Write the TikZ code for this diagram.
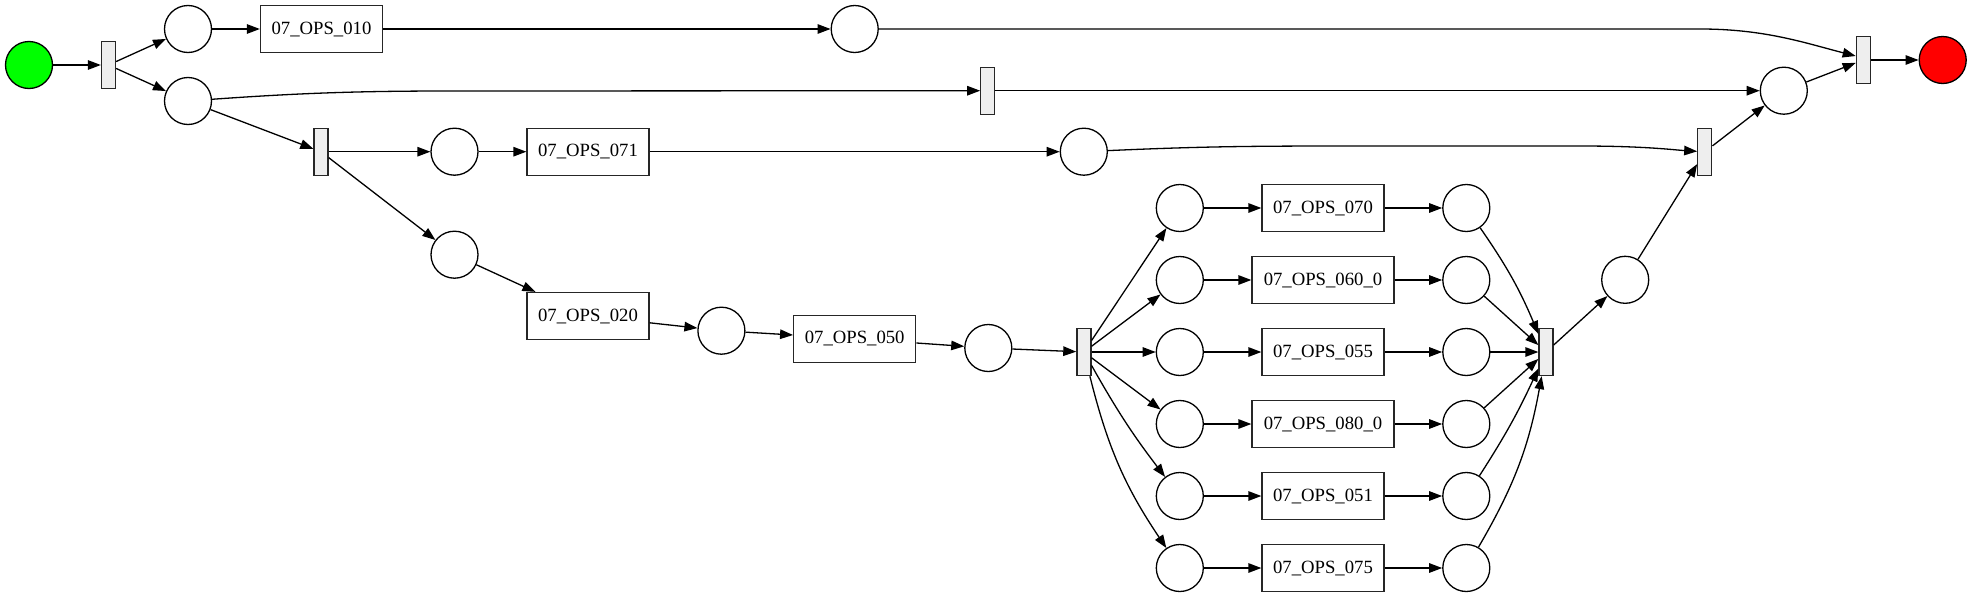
\documentclass[tikz,border=0pt]{standalone}
\usepackage{fontspec}
\setmainfont{Liberation Serif}
\usetikzlibrary{arrows.meta}
\definecolor{tgray}{HTML}{EEEEEE}
\definecolor{srcgreen}{HTML}{00FF00}
\definecolor{sinkred}{HTML}{FF0000}
\tikzset{
  place/.style={circle, draw=black, line width=1.3pt, minimum size=47pt, inner sep=0pt, fill=white},
  trans/.style={rectangle, draw=black!85, fill=tgray, line width=1.3pt, minimum width=14pt, minimum height=47pt, inner sep=0pt},
  opbox/.style={rectangle, draw=black!85, line width=1.3pt, minimum width=122pt, minimum height=47pt, inner sep=0pt, font=\fontsize{18.7}{22}\selectfont},
  widebox/.style={opbox, minimum width=142pt},
  arc/.style={line width=1.3pt, -{Triangle[length=13pt,width=9.5pt]}}
}
\begin{document}
\begin{tikzpicture}[x=1pt,y=-1pt]
\useasboundingbox (0,0) rectangle (1972,597);
% top part
\node[place, fill=srcgreen] (src) at (29,65) {};
\node[trans] (t1) at (108.5,65) {};
\node[place] (p1) at (188,29) {};
\node[place] (p2) at (188,101) {};
\node[opbox] (b010) at (321.5,29) {07\_OPS\_010};
\node[place] (ptop) at (854.7,29) {};
\node[trans] (tmid) at (987.8,90.7) {};
\node[place] (pjoin) at (1783.8,90.7) {};
\node[trans] (tfin) at (1863.3,60) {};
\node[place, fill=sinkred] (sink) at (1942.7,60) {};
\node[trans] (t2) at (321,151.7) {};
\node[place] (p071a) at (454.5,151.7) {};
\node[opbox] (b071) at (588,151.7) {07\_OPS\_071};
\node[place] (p071b) at (1083.8,151.7) {};
\node[trans] (tj2) at (1704.8,151.8) {};
\node[place] (p020a) at (454.5,254.7) {};
\node[opbox] (b020) at (588,316) {07\_OPS\_020};
\node[place] (p020b) at (721.4,330.7) {};
\node[opbox] (b050) at (854.7,338.7) {07\_OPS\_050};
\node[place] (p050b) at (988.3,348) {};
\node[trans] (tfork) at (1083.9,352) {};
\node[trans] (tjoin) at (1546,352) {};
\node[place] (pafter) at (1625.2,279.8) {};
% parallel branches
\node[place] (l0) at (1179.8,208) {};
\node[place] (l1) at (1179.8,280) {};
\node[place] (l2) at (1179.8,352) {};
\node[place] (l3) at (1179.8,424) {};
\node[place] (l4) at (1179.8,496) {};
\node[place] (l5) at (1179.8,568) {};
\node[opbox] (o0) at (1323,208) {07\_OPS\_070};
\node[widebox] (o1) at (1323,280) {07\_OPS\_060\_0};
\node[opbox] (o2) at (1323,352) {07\_OPS\_055};
\node[widebox] (o3) at (1323,424) {07\_OPS\_080\_0};
\node[opbox] (o4) at (1323,496) {07\_OPS\_051};
\node[opbox] (o5) at (1323,568) {07\_OPS\_075};
\node[place] (r0) at (1466.3,208) {};
\node[place] (r1) at (1466.3,280) {};
\node[place] (r2) at (1466.3,352) {};
\node[place] (r3) at (1466.3,424) {};
\node[place] (r4) at (1466.3,496) {};
\node[place] (r5) at (1466.3,568) {};
% arcs
\draw[arc] (src) -- (t1);
\draw[arc] (t1) -- (p1);
\draw[arc] (t1) -- (p2);
\draw[arc] (p1) -- (b010);
\draw[arc] (b010) -- (ptop);
\draw[arc] (ptop) -- (1700,29) .. controls (1765,29) and (1805,43) .. ([yshift=4pt]tfin.west);
\draw[arc] (p2) .. controls (300,93) and (360,91) .. (450,91) -- (tmid);
\draw[arc] (tmid) -- (pjoin);
\draw[arc] (p2) -- (t2);
\draw[arc] (t2) -- (p071a);
\draw[arc] (p071a) -- (b071);
\draw[arc] (b071) -- (p071b);
\draw[arc] (p071b) .. controls (1200,146.5) and (1250,146) .. (1350,146) -- (1580,146) .. controls (1645,146) and (1675,150) .. (tj2);
\draw[arc] (t2) -- (p020a);
\draw[arc] (p020a) -- (b020);
\draw[arc] (b020) -- (p020b);
\draw[arc] (p020b) -- (b050);
\draw[arc] (b050) -- (p050b);
\draw[arc] (p050b) -- (tfork);
\draw[arc] (tfork) -- (l0);
\draw[arc] (tfork) -- (l1);
\draw[arc] (tfork) -- (l2);
\draw[arc] (tfork) -- (l3);
\draw[arc] (tfork) to[bend right=4] (l4);
\draw[arc] (tfork) to[bend right=10] (l5);
\foreach \i in {0,...,5} {
  \draw[arc] (l\i) -- (o\i);
  \draw[arc] (o\i) -- (r\i);
}
\draw[arc] (r0) to[bend left=6] (tjoin);
\draw[arc] (r1) -- (tjoin);
\draw[arc] (r2) -- (tjoin);
\draw[arc] (r3) -- (tjoin);
\draw[arc] (r4) to[bend right=4] (tjoin);
\draw[arc] (r5) to[bend right=10] (tjoin);
\draw[arc] (tjoin) -- (pafter);
\draw[arc] (pafter) -- (tj2);
\draw[arc] (tj2) -- (pjoin);
\draw[arc] (pjoin) -- (tfin);
\draw[arc] (tfin) -- (sink);
\end{tikzpicture}
\end{document}
